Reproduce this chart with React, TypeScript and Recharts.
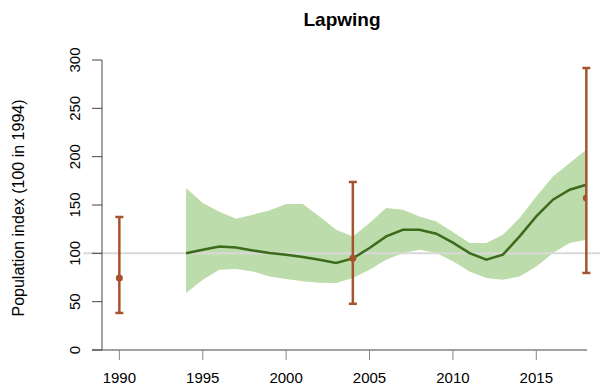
import {
  Area,
  ComposedChart,
  ErrorBar,
  Label,
  Line,
  ReferenceLine,
  Scatter,
  XAxis,
  YAxis,
} from "recharts";

const YEARS = [
  1994, 1995, 1996, 1997, 1998, 1999, 2000, 2001, 2002, 2003, 2004, 2005, 2006,
  2007, 2008, 2009, 2010, 2011, 2012, 2013, 2014, 2015, 2016, 2017, 2018,
];
const INDEX = [
  100, 103.8, 107, 106, 103, 100.3, 98.6, 96.2, 93.4, 90, 94.8, 105.5, 117.5,
  124.4, 124.4, 120.3, 111, 100.3, 93.4, 98.6, 117.5, 138.2, 155.5, 165.8, 171,
];
const LOWER = [
  59, 72.7, 83, 83.8, 81.3, 76.1, 73.4, 71, 69.5, 69.3, 74.5, 83, 93.4, 100.3,
  103.8, 100.3, 91.7, 81.3, 74.5, 72.7, 76.1, 86.5, 100.3, 110.7, 114.1,
];
const UPPER = [
  167.6, 152, 143, 135.8, 140, 144.4, 151, 151, 138, 124.4, 117.5, 131.4, 146.9,
  145.1, 138.2, 133, 122, 110.7, 110.7, 119.3, 136.5, 158.9, 179.6, 193.4, 207.2,
];

// survey estimates with confidence limits
const EST_YEARS = [1990, 2004, 2018];
const EST = [74.5, 94.8, 157.2];
const EST_LO = [38.3, 47.8, 79.7];
const EST_HI = [137.6, 173.8, 291.7];

const X_TICKS = [1990, 1995, 2000, 2005, 2010, 2015];
const Y_TICKS = [0, 50, 100, 150, 200, 250, 300];

const X_MIN = 1988.96;
const X_MAX = 2018.04;

const FONT = "Arial, 'Liberation Sans', sans-serif";
const BROWN = "#a5532f";

const trend = YEARS.map((year, i) => ({
  year,
  index: INDEX[i],
  band: [LOWER[i], UPPER[i]],
}));

const estimates = EST_YEARS.map((year, i) => ({
  year,
  est: EST[i],
  err: [EST[i] - EST_LO[i], EST_HI[i] - EST[i]],
}));

const YTick = (props: any) => {
  const { x, y, payload } = props;
  const tx = x - 10;
  return (
    <text
      x={tx}
      y={y}
      transform={`rotate(-90, ${tx}, ${y})`}
      textAnchor="middle"
      fontSize={15}
      fontFamily={FONT}
      fill="#000"
    >
      {payload.value}
    </text>
  );
};

const Dot = (props: any) => {
  const { cx, cy } = props;
  return <circle cx={cx} cy={cy} r={3.5} fill={BROWN} />;
};

export default function App() {
  return (
    <div style={{ position: "absolute", left: 0, top: 0, width: 600, height: 392, background: "#fff" }}>
      <div
        style={{
          position: "absolute",
          left: 0,
          width: 684,
          top: 8,
          textAlign: "center",
          fontFamily: FONT,
          fontWeight: "bold",
          fontSize: 19,
          lineHeight: "24px",
        }}
      >
        Lapwing
      </div>
      <ComposedChart
        width={600}
        height={392}
        data={trend}
        margin={{ top: 60, right: 13, bottom: 0, left: 0 }}
      >
        <XAxis
          dataKey="year"
          type="number"
          domain={[X_MIN, X_MAX]}
          ticks={X_TICKS}
          allowDataOverflow
          axisLine={false}
          tickSize={10}
          tickMargin={12}
          tickLine={{ stroke: "#888", strokeWidth: 1 }}
          tick={{ fontSize: 15, fontFamily: FONT, fill: "#000" }}
          height={42}
        />
        <YAxis
          type="number"
          domain={[0, 300]}
          ticks={Y_TICKS}
          width={102}
          tickSize={10}
          tickMargin={2}
          axisLine={{ stroke: "#444", strokeWidth: 1 }}
          tickLine={{ stroke: "#444", strokeWidth: 1 }}
          tick={<YTick />}
        >
          <Label
            content={() => (
              <text
                x={24}
                y={208}
                transform="rotate(-90, 24, 208)"
                textAnchor="middle"
                fontSize={16}
                fontFamily={FONT}
                fill="#000"
              >
                Population index (100 in 1994)
              </text>
            )}
          />
        </YAxis>
        <Area
          dataKey="band"
          type="linear"
          stroke="none"
          fill="#bddcab"
          fillOpacity={1}
          isAnimationActive={false}
        />
        <ReferenceLine
          segment={[
            { x: X_MIN - 0.6, y: 0 },
            { x: X_MAX, y: 0 },
          ]}
          stroke="#444"
          strokeWidth={1}
          ifOverflow="visible"
        />
        <ReferenceLine
          segment={[
            { x: 1987.84, y: 100 },
            { x: 2018.9, y: 100 },
          ]}
          stroke="#d9d9d9"
          strokeWidth={2}
          ifOverflow="visible"
        />
        <Line
          dataKey="index"
          type="linear"
          stroke="#3b6b1b"
          strokeWidth={2.5}
          dot={false}
          isAnimationActive={false}
        />
        <Scatter
          data={estimates}
          dataKey="est"
          fill={BROWN}
          shape={<Dot />}
          isAnimationActive={false}
        >
          <ErrorBar
            dataKey="err"
            direction="y"
            width={4}
            stroke={BROWN}
            strokeWidth={2.5}
            isAnimationActive={false}
          />
        </Scatter>
      </ComposedChart>
    </div>
  );
}
